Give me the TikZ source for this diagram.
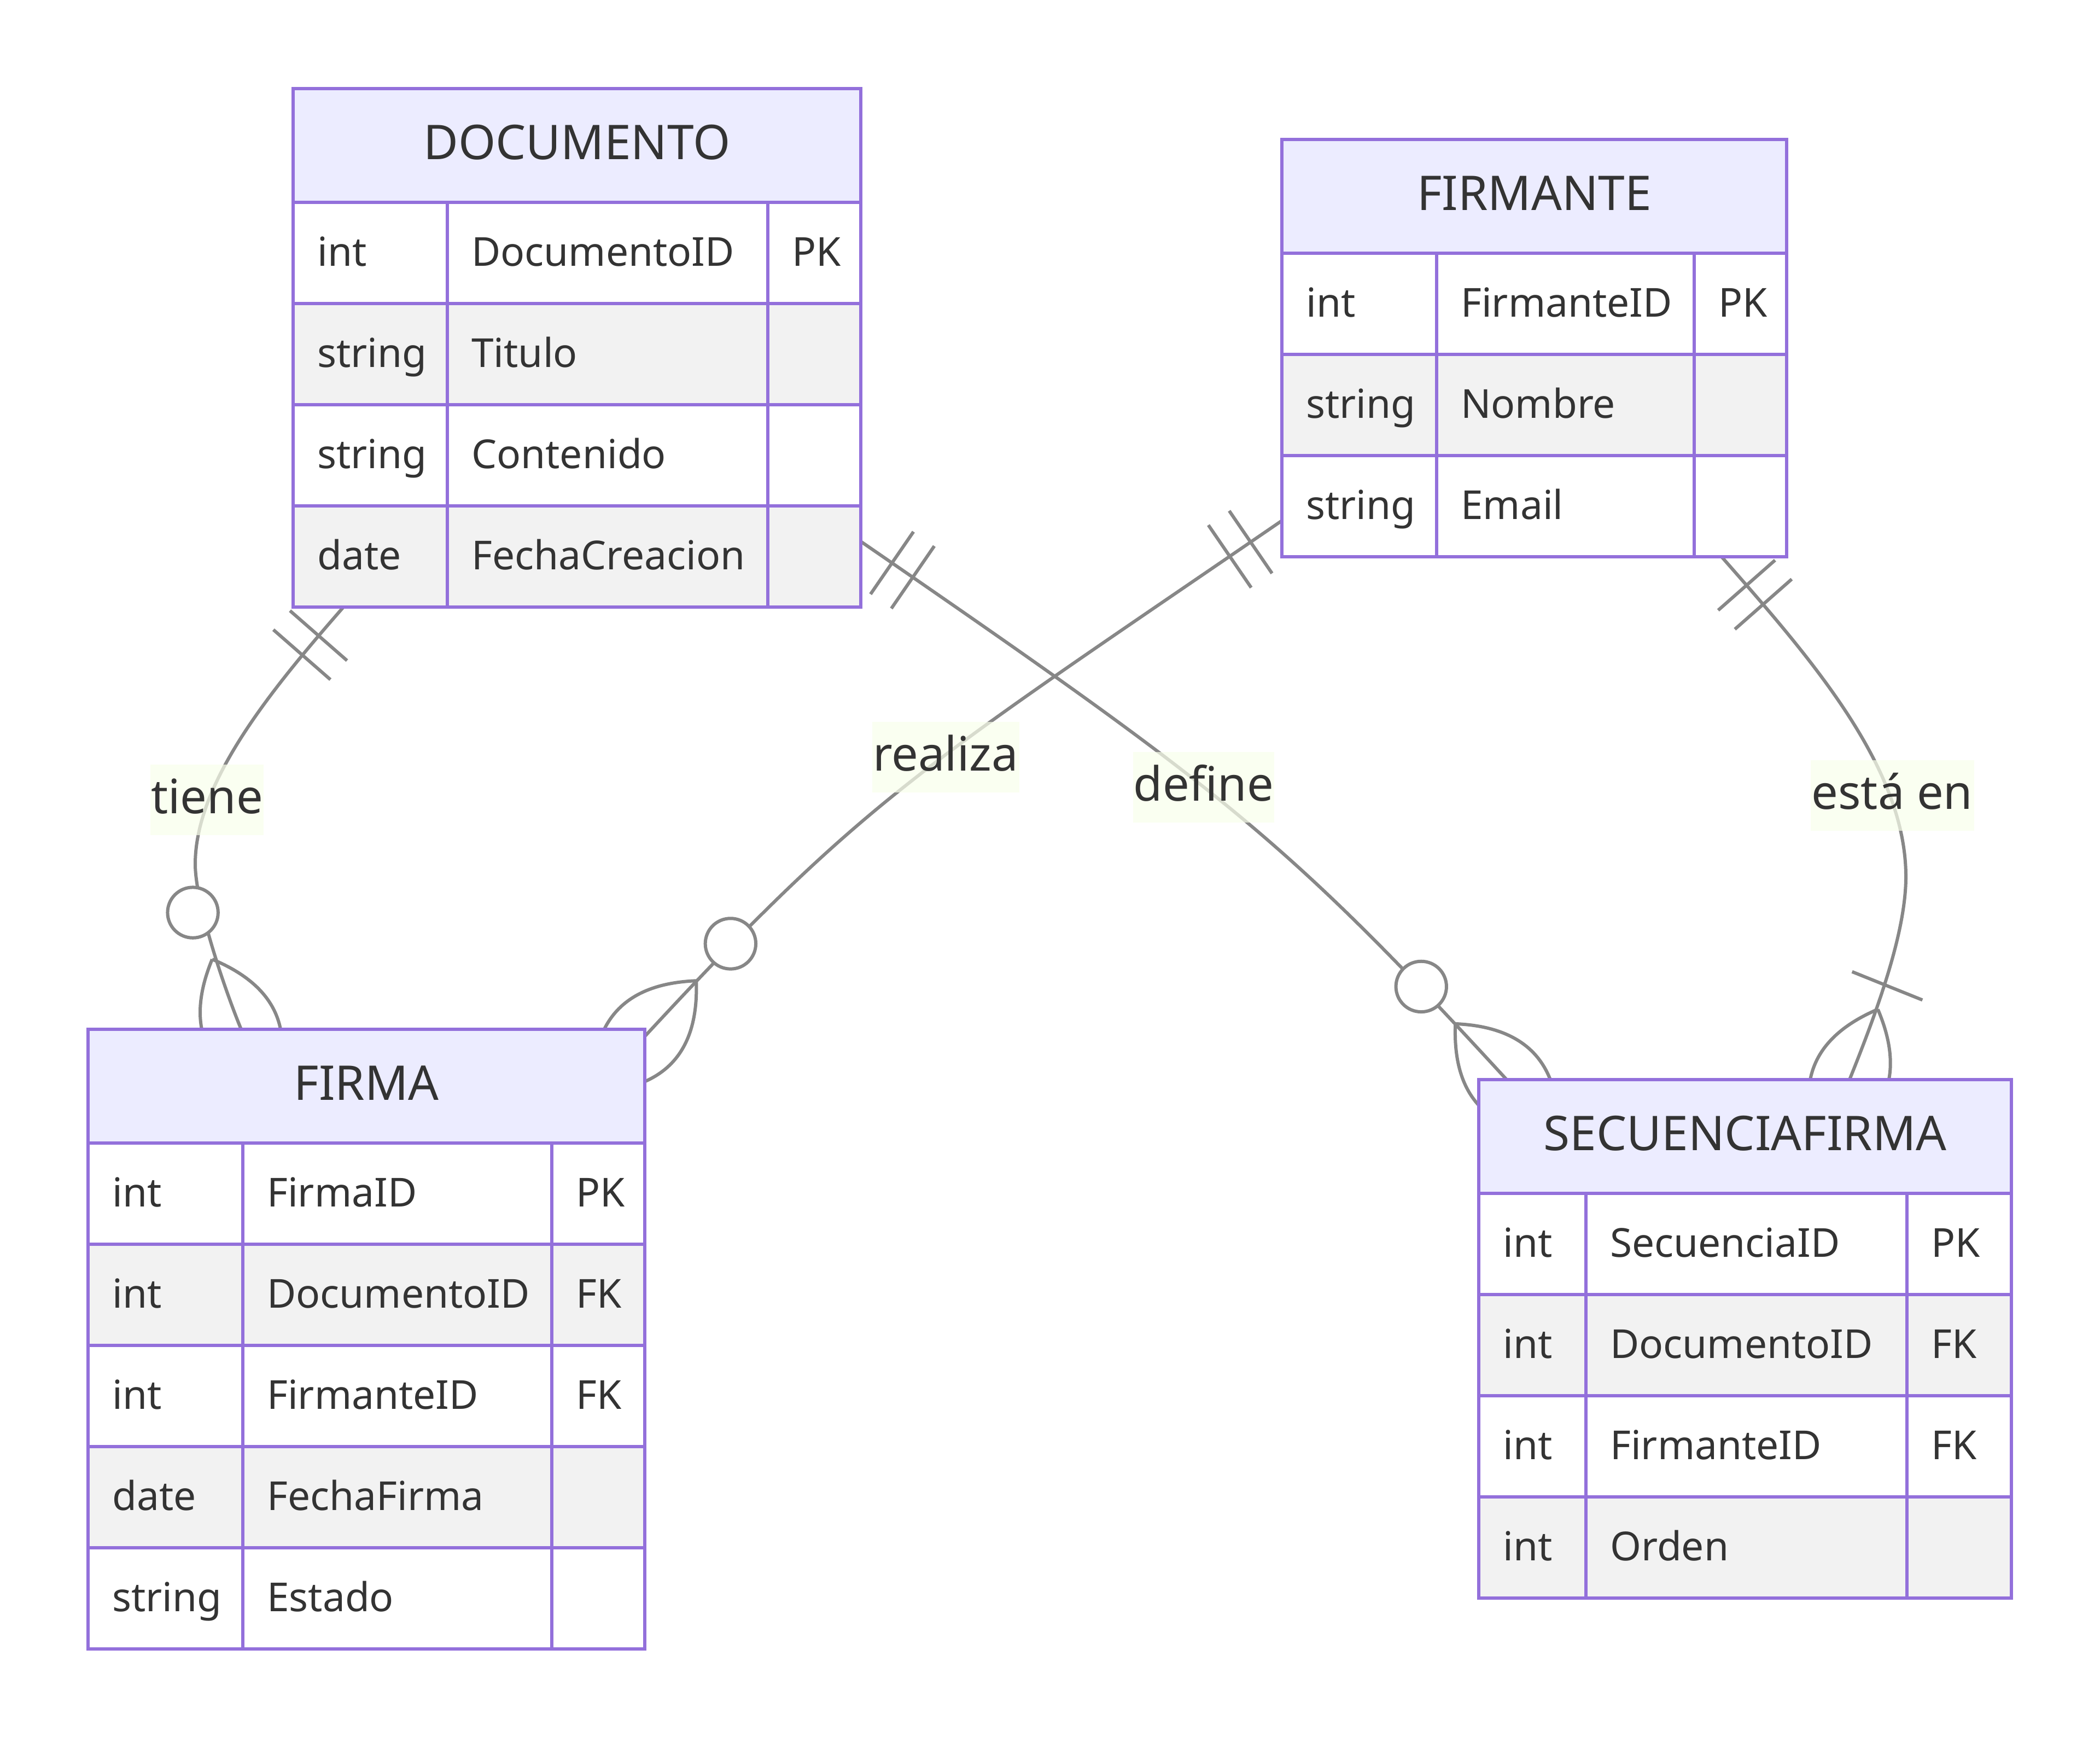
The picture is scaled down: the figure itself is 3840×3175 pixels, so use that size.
\documentclass[tikz,border=0pt]{standalone}
\usepackage{fontspec}
\setmainfont{Noto Sans}
\usetikzlibrary{calc}
\definecolor{erborder}{HTML}{9370DB}
\definecolor{erhead}{HTML}{ECECFF}
\definecolor{eralt}{HTML}{F2F2F2}
\definecolor{ertext}{HTML}{333333}
\definecolor{erline}{HTML}{878787}
\definecolor{erlabel}{RGB}{249,255,236}
\tikzset{
  boxline/.style={draw=erborder, line width=6.5pt},
  conn/.style={draw=erline, line width=6pt},
  rowtext/.style={font=\fontsize{73}{80}\selectfont, text=ertext, inner sep=0pt, anchor=base west},
  headtext/.style={font=\fontsize{87.5}{95}\selectfont, text=ertext, inner sep=0pt, anchor=base},
  rellabel/.style={fill=erlabel, fill opacity=0.7, text opacity=1, text=ertext,
    font=\fontsize{86.5}{95}\selectfont, inner sep=0pt, text height=50pt, text depth=0pt,
    minimum height=129pt},
}
% #1 name, #2 x0, #3 x1, #4 x2, #5 x3, #6 y0, #7 rows, #8 title, #9 list
\newcommand\erentity[9]{%
  \pgfmathsetmacro\eryh{#6+208}%
  \pgfmathsetmacro\erbot{#6+208+#7*185}%
  \pgfmathsetmacro\erw{#5-#2}%
  \pgfmathsetmacro\erh{208+#7*185}%
  \pgfmathtruncatemacro\erlast{#7-1}%
  \fill[erhead] (#2,#6) rectangle (#5,\eryh);
  \foreach[count=\i] \ta/\tb/\tc in {#9}{%
    \pgfmathsetmacro\yt{#6+208+(\i-1)*185}%
    \ifodd\i\relax\def\rowfill{white}\else\def\rowfill{eralt}\fi
    \fill[fill=\rowfill] (#2,\yt) rectangle (#5,\yt+185);
    \node[rowtext] (#1-a\i) at (#2+44,\yt+116.5) {\ta};
    \node[rowtext] (#1-b\i) at (#3+44,\yt+116.5) {\tb};
    \node[rowtext] (#1-c\i) at (#4+44,\yt+116.5) {\tc};
  }
  \draw[boxline] (#2,#6) rectangle (#5,\erbot);
  \draw[boxline] (#2,\eryh) -- (#5,\eryh);
  \foreach \k in {1,...,\erlast}{\draw[boxline] (#2,#6+208+\k*185) -- (#5,#6+208+\k*185);}
  \draw[boxline] (#3,\eryh) -- (#3,\erbot);
  \draw[boxline] (#4,\eryh) -- (#4,\erbot);
  \node[headtext] (#1-title) at ({(#2+#5)/2},#6+129) {#8};
  \node[inner sep=0pt, outer sep=0pt, minimum width=\erw pt, minimum height=\erh pt, anchor=north west] (#1) at (#2,#6) {};
}
% start marker: exactly one (two bars)
\newcommand\markone[2]{%
  \draw[conn] ($(#1)!69.3pt!(#2)!69.3pt!90:(#2)$) -- ($(#1)!69.3pt!(#2)!69.3pt!-90:(#2)$);
  \draw[conn] ($(#1)!115.5pt!(#2)!69.3pt!90:(#2)$) -- ($(#1)!115.5pt!(#2)!69.3pt!-90:(#2)$);
}
% crow's foot lens at end #1, direction point #2
\newcommand\marklens[2]{%
  \coordinate (lA) at ($(#1)!138.6pt!(#2)$);
  \coordinate (lF) at ($(#1)!-138.6pt!(#2)$);
  \coordinate (lK) at ($(#1)!138.6pt!90:(#2)$);
  \coordinate (lL) at ($(#1)!138.6pt!-90:(#2)$);
  \draw[conn] (lA) .. controls ($(lA)!2/3!(lK)$) and ($(lF)!2/3!(lK)$) .. (lF)
     .. controls ($(lF)!2/3!(lL)$) and ($(lA)!2/3!(lL)$) .. (lA);
}
\newcommand\markzeromany[2]{%
  \marklens{#1}{#2}%
  \draw[conn, fill=white] ($(#1)!231pt!(#2)$) circle[radius=46.2pt];
}
\newcommand\markonemany[2]{%
  \marklens{#1}{#2}%
  \draw[conn] ($(#1)!184.8pt!(#2)!69.3pt!90:(#2)$) -- ($(#1)!184.8pt!(#2)!69.3pt!-90:(#2)$);
}
\begin{document}
\begin{tikzpicture}[x=1pt,y=-1pt]
\fill[white] (0,0) rectangle (3840,3175);
\useasboundingbox (0,0) rectangle (3840,3175);

% entity frames (named, invisible) first for anchors
\node[inner sep=0pt, outer sep=0pt, minimum width=1038pt, minimum height=948pt, anchor=north west] (doc0) at (536,162) {};
\node[inner sep=0pt, outer sep=0pt, minimum width=923pt, minimum height=763pt, anchor=north west] (fte0) at (2344,255) {};
\node[inner sep=0pt, outer sep=0pt, minimum width=1018pt, minimum height=1133pt, anchor=north west] (fir0) at (161,1882) {};
\node[inner sep=0pt, outer sep=0pt, minimum width=974pt, minimum height=948pt, anchor=north west] (sec0) at (2704,1974) {};

% connector end points
\coordinate (sA) at ($(doc0.south west)+(92,0)$);
\coordinate (eA) at ($(fir0.north west)+(280,0)$);
\coordinate (sB) at ($(fte0.north west)+(0,697)$);
\coordinate (eB) at ($(fir0.north east)+(0,13)$);
\coordinate (sC) at ($(doc0.north east)+(0,828)$);
\coordinate (eC) at ($(sec0.north west)+(51,0)$);
\coordinate (sD) at ($(fte0.south west)+(804,0)$);
\coordinate (eD) at ($(sec0.north west)+(678,0)$);

% control points
\coordinate (a1) at (496.4,1260.6);
\coordinate (a2) at (357,1430);
\coordinate (a3) at (357,1580);
\coordinate (a4) at (357,1650);
\coordinate (a5) at (410.4,1808.1);
\coordinate (b1) at (1684,1404);
\coordinate (b2) at (1586.4,1454.6);
\coordinate (c1) at (2233.2,1443.6);
\coordinate (c2) at (2348.8,1531.8);
\coordinate (d1) at (3313,1205.5);
\coordinate (d2) at (3485,1403);
\coordinate (d3) at (3485,1603);
\coordinate (d4) at (3485,1700);
\coordinate (d5) at (3438,1834.8);

% connectors
\draw[conn] (sA) .. controls (a1) and (a2) .. (a3) .. controls (a4) and (a5) .. (eA);
\draw[conn] (sB) .. controls (b1) and (b2) .. (eB);
\draw[conn] (sC) .. controls (c1) and (c2) .. (eC);
\draw[conn] (sD) .. controls (d1) and (d2) .. (d3) .. controls (d4) and (d5) .. (eD);

% markers
\markone{sA}{a1}
\markone{sB}{b1}
\markone{sC}{c1}
\markone{sD}{d1}
\markzeromany{eA}{a5}
\markzeromany{eB}{b2}
\markzeromany{eC}{c2}
\markonemany{eD}{d5}

% labels
\node[rellabel, minimum width=207pt] (ltiene) at (378.5,1462.5) {tiene};
\node[rellabel, minimum width=269pt] (lrealiza) at (1729,1384) {realiza};
\node[rellabel, minimum width=258pt] (ldefine) at (2201,1439) {define};
\node[rellabel, minimum width=299pt] (lesta) at (3460,1454.5) {está en};

% entities
\erentity{doc}{536}{818}{1404}{1574}{162}{4}{DOCUMENTO}{int/DocumentoID/PK, string/Titulo/{}, string/Contenido/{}, date/FechaCreacion/{}}
\erentity{fte}{2344}{2627}{3098}{3267}{255}{3}{FIRMANTE}{int/FirmanteID/PK, string/Nombre/{}, string/Email/{}}
\erentity{fir}{161}{444}{1009}{1179}{1882}{5}{FIRMA}{int/FirmaID/PK, int/DocumentoID/FK, int/FirmanteID/FK, date/FechaFirma/{}, string/Estado/{}}
\erentity{sec}{2704}{2900}{3487}{3678}{1974}{4}{SECUENCIAFIRMA}{int/SecuenciaID/PK, int/DocumentoID/FK, int/FirmanteID/FK, int/Orden/{}}
\end{tikzpicture}
\end{document}
